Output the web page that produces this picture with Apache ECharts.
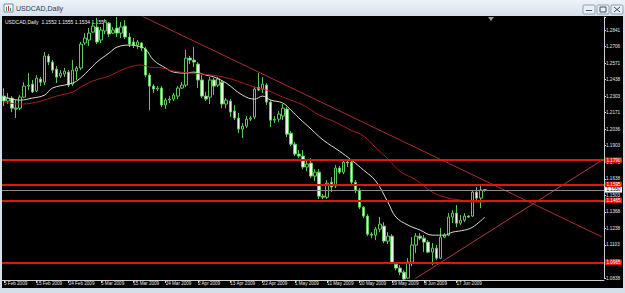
<!DOCTYPE html>
<html><head><meta charset="utf-8">
<script src="https://cdn.jsdelivr.net/npm/echarts@6/dist/echarts.min.js"></script>
<style>html,body{margin:0;padding:0;background:#dae4ef;}#c{width:625px;height:293px;}</style>
</head><body><div id="c"></div>
<script>
const dates = [
'5 Feb 2009','6 Feb 2009','8 Feb 2009','9 Feb 2009','10 Feb 2009','11 Feb 2009','12 Feb 2009','13 Feb 2009',
'15 Feb 2009','16 Feb 2009','17 Feb 2009','18 Feb 2009','19 Feb 2009','20 Feb 2009','22 Feb 2009','23 Feb 2009',
'24 Feb 2009','25 Feb 2009','26 Feb 2009','27 Feb 2009','1 Mar 2009','2 Mar 2009','3 Mar 2009','4 Mar 2009',
'5 Mar 2009','6 Mar 2009','8 Mar 2009','9 Mar 2009','10 Mar 2009','11 Mar 2009','12 Mar 2009','13 Mar 2009',
'15 Mar 2009','16 Mar 2009','17 Mar 2009','18 Mar 2009','19 Mar 2009','20 Mar 2009','22 Mar 2009','23 Mar 2009',
'24 Mar 2009','25 Mar 2009','26 Mar 2009','27 Mar 2009','29 Mar 2009','30 Mar 2009','31 Mar 2009','1 Apr 2009',
'2 Apr 2009','3 Apr 2009','5 Apr 2009','6 Apr 2009','7 Apr 2009','8 Apr 2009','9 Apr 2009','10 Apr 2009',
'13 Apr 2009','14 Apr 2009','15 Apr 2009','16 Apr 2009','17 Apr 2009','19 Apr 2009','20 Apr 2009','21 Apr 2009',
'22 Apr 2009','23 Apr 2009','24 Apr 2009','26 Apr 2009','27 Apr 2009','28 Apr 2009','29 Apr 2009','30 Apr 2009',
'1 May 2009','3 May 2009','4 May 2009','5 May 2009','6 May 2009','7 May 2009','8 May 2009','10 May 2009',
'11 May 2009','12 May 2009','13 May 2009','14 May 2009','15 May 2009','17 May 2009','18 May 2009','19 May 2009',
'20 May 2009','21 May 2009','22 May 2009','24 May 2009','25 May 2009','26 May 2009','27 May 2009','28 May 2009',
'29 May 2009','31 May 2009','1 Jun 2009','2 Jun 2009','3 Jun 2009','4 Jun 2009','5 Jun 2009','7 Jun 2009',
'8 Jun 2009','9 Jun 2009','10 Jun 2009','11 Jun 2009','12 Jun 2009','14 Jun 2009','15 Jun 2009','16 Jun 2009',
'17 Jun 2009','18 Jun 2009','19 Jun 2009','21 Jun 2009','22 Jun 2009','23 Jun 2009','24 Jun 2009','25 Jun 2009'];

const opens = [
1.2307,1.2267,1.2291,1.2210,1.2210,1.2299,1.2388,1.2404,1.2348,1.2445,
1.2420,1.2631,1.2582,1.2525,1.2469,1.2485,1.2501,1.2404,1.2509,1.2534,
1.2736,1.2760,1.2824,1.2865,1.2760,1.2833,1.2897,1.2816,1.2857,1.2816,
1.2873,1.2784,1.2744,1.2719,1.2736,1.2687,1.2477,1.2388,1.2364,1.2372,
1.2235,1.2275,1.2283,1.2307,1.2372,1.2396,1.2614,1.2598,1.2566,1.2437,
1.2307,1.2299,1.2437,1.2396,1.2420,1.2243,1.2267,1.2186,1.2130,1.2041,
1.2065,1.2121,1.2138,1.2380,1.2364,1.2396,1.2259,1.2113,1.2121,1.2146,
1.2202,1.2008,1.1919,1.1839,1.1823,1.1734,1.1766,1.1661,1.1693,1.1499,
1.1491,1.1612,1.1580,1.1726,1.1693,1.1774,1.1774,1.1612,1.1548,1.1410,
1.1338,1.1192,1.1184,1.1233,1.1257,1.1136,1.1176,1.0950,1.0918,1.0885,
1.0837,1.0966,1.1104,1.1176,1.1160,1.1128,1.1047,1.1079,1.0998,1.1168,
1.1184,1.1330,1.1362,1.1281,1.1305,1.1338,1.1338,1.1532,1.1483,1.1552];

const closes = [
1.2267,1.2291,1.2210,1.2202,1.2299,1.2388,1.2396,1.2340,1.2453,1.2420,
1.2631,1.2582,1.2517,1.2461,1.2493,1.2509,1.2396,1.2517,1.2534,1.2727,
1.2776,1.2816,1.2873,1.2744,1.2841,1.2905,1.2808,1.2841,1.2816,1.2865,
1.2784,1.2727,1.2719,1.2744,1.2695,1.2477,1.2388,1.2364,1.2372,1.2235,
1.2275,1.2283,1.2315,1.2372,1.2396,1.2614,1.2598,1.2582,1.2437,1.2307,
1.2283,1.2437,1.2388,1.2445,1.2243,1.2275,1.2178,1.2130,1.2041,1.2065,
1.2121,1.2130,1.2364,1.2356,1.2404,1.2259,1.2113,1.2121,1.2162,1.2210,
1.2000,1.1919,1.1839,1.1823,1.1734,1.1758,1.1661,1.1693,1.1499,1.1491,
1.1604,1.1572,1.1726,1.1693,1.1774,1.1766,1.1612,1.1548,1.1410,1.1338,
1.1192,1.1184,1.1233,1.1273,1.1136,1.1176,1.0966,1.0918,1.0885,1.0829,
1.0966,1.1104,1.1176,1.1160,1.1128,1.1047,1.1079,1.0998,1.1168,1.1184,
1.1330,1.1362,1.1281,1.1305,1.1338,1.1330,1.1532,1.1483,1.1548,1.1550];

const highs = [
1.2372,1.2332,1.2307,1.2275,1.2315,1.2420,1.2493,1.2437,1.2477,1.2461,
1.2663,1.2647,1.2598,1.2550,1.2517,1.2534,1.2517,1.2598,1.2550,1.2744,
1.2816,1.2857,1.2905,1.2938,1.2865,1.2929,1.2905,1.2865,1.2946,1.2905,
1.2921,1.2816,1.2776,1.2760,1.2744,1.2703,1.2493,1.2404,1.2388,1.2388,
1.2291,1.2307,1.2332,1.2388,1.2420,1.2679,1.2631,1.2703,1.2582,1.2477,
1.2340,1.2461,1.2453,1.2461,1.2437,1.2291,1.2283,1.2235,1.2170,1.2089,
1.2146,1.2146,1.2380,1.2493,1.2461,1.2412,1.2275,1.2146,1.2186,1.2243,
1.2219,1.2025,1.1936,1.1871,1.1871,1.1782,1.1806,1.1717,1.1717,1.1516,
1.1629,1.1653,1.1750,1.1742,1.1798,1.1798,1.1790,1.1629,1.1564,1.1419,
1.1354,1.1208,1.1249,1.1330,1.1289,1.1208,1.1192,1.0966,1.0942,1.0901,
1.0998,1.1168,1.1200,1.1200,1.1184,1.1144,1.1120,1.1104,1.1241,1.1200,
1.1362,1.1386,1.1427,1.1346,1.1362,1.1346,1.1548,1.1572,1.1580,1.1555];

const lows = [
1.2227,1.2243,1.2178,1.2130,1.2194,1.2291,1.2356,1.2332,1.2340,1.2388,
1.2396,1.2558,1.2493,1.2412,1.2453,1.2461,1.2380,1.2388,1.2437,1.2517,
1.2719,1.2711,1.2816,1.2727,1.2736,1.2808,1.2784,1.2808,1.2784,1.2776,
1.2768,1.2703,1.2695,1.2687,1.2671,1.2461,1.2194,1.2332,1.2348,1.2219,
1.2202,1.2251,1.2267,1.2283,1.2364,1.2380,1.2566,1.2542,1.2372,1.2291,
1.2267,1.2243,1.2315,1.2380,1.2210,1.2210,1.2138,1.2113,1.2008,1.1968,
1.2049,1.2105,1.2121,1.2348,1.2332,1.2235,1.2057,1.2089,1.2097,1.2113,
1.1976,1.1903,1.1823,1.1806,1.1717,1.1701,1.1645,1.1621,1.1475,1.1475,
1.1475,1.1532,1.1564,1.1677,1.1677,1.1734,1.1596,1.1524,1.1394,1.1322,
1.1176,1.1160,1.1144,1.1208,1.1120,1.1112,1.0950,1.0901,1.0861,1.0821,
1.0829,1.0934,1.1039,1.1144,1.1047,1.1039,1.0942,1.0982,1.0990,1.1160,
1.1176,1.1281,1.1249,1.1265,1.1289,1.1322,1.1330,1.1451,1.1402,1.1534];

// moving averages: [bar index, price]
const whiteMA = [[0,1.2299],[2,1.2283],[4,1.2275],[7,1.2291],[10,1.2315],[12,1.2372],[16,1.2404],[18,1.2429],
[21,1.2517],[23,1.2582],[26,1.2655],[28,1.2703],[31,1.2719],[33,1.2711],[35,1.2687],[37,1.2598],[40,1.2534],
[42,1.2501],[45,1.2493],[47,1.2501],[50,1.2477],[52,1.2461],[55,1.2412],[59,1.2315],[62,1.2283],[64,1.2307],
[66,1.2275],[69,1.2251],[71,1.2194],[73,1.2130],[76,1.2041],[79,1.1952],[83,1.1863],[86,1.1790],[89,1.1709],
[92,1.1621],[95,1.1451],[97,1.1330],[100,1.1265],[103,1.1225],[106,1.1184],[109,1.1184],[111,1.1208],
[114,1.1225],[116,1.1249],[119,1.1330]];
const redMA = [[0,1.2259],[4,1.2243],[7,1.2251],[10,1.2275],[13,1.2307],[17,1.2340],[19,1.2380],[22,1.2429],
[26,1.2469],[29,1.2517],[32,1.2550],[34,1.2558],[36,1.2542],[39,1.2534],[42,1.2509],[46,1.2493],[49,1.2485],
[53,1.2469],[57,1.2437],[62,1.2380],[65,1.2356],[69,1.2299],[74,1.2235],[78,1.2154],[82,1.2097],[86,1.2030],
[89,1.1985],[92,1.1890],[95,1.1800],[98,1.1700],[102,1.1629],[106,1.1532],[110,1.1483],[113,1.1467],
[116,1.1451],[119,1.1451]];

// trend lines (endpoints, bar index / price)
const trendDown = [[30,1.3018],[148,1.1170]];
const trendUp = [[100,1.0796],[148,1.1790]];
// horizontal levels
const levels = [1.1790,1.1595,1.1465,1.0965];
const lastPrice = 1.1550;
const headerText = 'USDCAD,Daily  1.1552 1.1555 1.1534 1.1550';
const windowTitle = 'USDCAD,Daily';

const tickLabels = ['5 Feb 2009','15 Feb 2009','24 Feb 2009','5 Mar 2009','15 Mar 2009','24 Mar 2009','2 Apr 2009',
'13 Apr 2009','22 Apr 2009','1 May 2009','11 May 2009','20 May 2009','29 May 2009','8 Jun 2009','17 Jun 2009'];
const priceLabels = ['1.0838','1.0972','1.1103','1.1238','1.1368','1.1503','1.1638','1.1773','1.1903',
'1.2036','1.2171','1.2303','1.2438','1.2571','1.2706','1.2841'];
const priceBase = 1.0838, priceStep = 0.013353;
const futureBars = 29;

const cats = dates.slice();
for (let k = 1; k <= futureBars; k++) cats.push('+' + k);
const candleData = opens.map((o, i) => [o, closes[i], lows[i], highs[i]]);

const FONT = '"Liberation Sans", Arial, sans-serif';
const showTick = (idx, val) => tickLabels.indexOf(val) >= 0;

const chart = echarts.init(document.getElementById('c'), null, {renderer: 'svg'});
const AX = '#cfcfcf';
chart.setOption({
  animation: false,
  backgroundColor: '#000000',
  grid: {left: 2, right: 21, top: 17, height: 261},
  xAxis: {
    type: 'category', data: cats, boundaryGap: true, offset: 2,
    axisLine: {show: true, lineStyle: {color: AX, width: 1}},
    axisTick: {show: true, alignWithLabel: true, interval: showTick, length: 3, lineStyle: {color: AX}},
    axisLabel: {interval: showTick, align: 'left', color: '#e8e8e8', fontSize: 4.6, fontFamily: FONT, margin: 1},
    splitLine: {show: false}
  },
  yAxis: {
    type: 'value', position: 'right', min: priceBase, max: 1.2946, interval: priceStep,
    axisLine: {show: true, lineStyle: {color: AX}},
    axisTick: {show: true, length: 2, lineStyle: {color: AX}},
    splitLine: {show: false},
    axisLabel: {color: '#e8e8e8', fontSize: 4.6, fontFamily: FONT, margin: 2,
      formatter: v => {
        const f = (v - priceBase) / priceStep, k = Math.round(f);
        if (Math.abs(f - k) > 0.05 || k < 0 || k >= priceLabels.length) return '';
        return priceLabels[k];
      }}
  },
  series: [
    {
      type: 'candlestick', data: candleData, barWidth: 3, clip: false,
      itemStyle: {color: '#000000', color0: '#eef6e6', borderColor: '#5cc85c', borderColor0: '#5cc85c', borderWidth: 1},
      markLine: {
        symbol: 'none', silent: true, animation: false, precision: 4,
        label: {position: 'end', distance: 1, fontSize: 4.6, fontFamily: FONT, padding: [0.5, 1.5, 0, 1.5],
          formatter: p => Number(p.value).toFixed(4)},
        data: levels.map(v => ({yAxis: v, lineStyle: {color: '#e3160f', width: 2, type: 'solid'},
            label: {color: '#ffffff', backgroundColor: '#d8180f'}}))
          .concat([{yAxis: lastPrice, lineStyle: {color: '#8a8a8a', width: 1, type: 'solid'},
            label: {color: '#000000', backgroundColor: '#ffffff'}}])
      }
    },
    {type: 'line', data: whiteMA, smooth: 0.4, symbol: 'none', lineStyle: {color: '#dcdcc8', width: 1}},
    {type: 'line', data: redMA, smooth: 0.4, symbol: 'none', lineStyle: {color: '#a8201c', width: 1}},
    {type: 'line', data: trendDown, symbol: 'none', lineStyle: {color: '#a83030', width: 1}},
    {type: 'line', data: trendUp, symbol: 'none', lineStyle: {color: '#b03a4a', width: 1}}
  ],
  graphic: [
    {type: 'rect', shape: {x: 0, y: 0, width: 625, height: 16}, silent: true,
      style: {fill: new echarts.graphic.LinearGradient(0, 0, 0, 1, [{offset: 0, color: '#eef3f9'}, {offset: 1, color: '#d5e0ec'}])}},
    {type: 'rect', shape: {x: 0, y: 16, width: 2, height: 277}, style: {fill: '#d5dfea'}},
    {type: 'rect', shape: {x: 623, y: 16, width: 2, height: 277}, style: {fill: '#d5dfea'}},
    {type: 'rect', shape: {x: 0, y: 288, width: 625, height: 5}, style: {fill: '#d5dfea'}},
    {type: 'rect', shape: {x: 4, y: 4, width: 9, height: 8}, style: {fill: '#f4f7fb', stroke: '#6d8fb3', lineWidth: 1}},
    {type: 'rect', shape: {x: 6, y: 7, width: 1, height: 4}, style: {fill: '#3a9a3a'}},
    {type: 'rect', shape: {x: 8, y: 6, width: 1, height: 5}, style: {fill: '#c03030'}},
    {type: 'rect', shape: {x: 10, y: 8, width: 1, height: 3}, style: {fill: '#3a9a3a'}},
    {type: 'text', style: {text: windowTitle, x: 16, y: 8.5, fill: '#2a3f5a', fontSize: 7, fontFamily: FONT, verticalAlign: 'middle'}},
    {type: 'rect', shape: {x: 583, y: 5, width: 12, height: 9, r: 1}, style: {fill: '#e9eff6', stroke: '#8fa3ba', lineWidth: 1}},
    {type: 'rect', shape: {x: 597, y: 5, width: 12, height: 9, r: 1}, style: {fill: '#e9eff6', stroke: '#8fa3ba', lineWidth: 1}},
    {type: 'rect', shape: {x: 611, y: 5, width: 12, height: 9, r: 1}, style: {fill: '#e9eff6', stroke: '#8fa3ba', lineWidth: 1}},
    {type: 'rect', shape: {x: 586, y: 10, width: 6, height: 1}, style: {fill: '#405060'}},
    {type: 'rect', shape: {x: 600, y: 7, width: 6, height: 5}, style: {fill: 'none', stroke: '#405060', lineWidth: 1}},
    {type: 'line', shape: {x1: 614, y1: 7, x2: 620, y2: 12}, style: {stroke: '#405060', lineWidth: 1}},
    {type: 'line', shape: {x1: 620, y1: 7, x2: 614, y2: 12}, style: {stroke: '#405060', lineWidth: 1}},
    {type: 'text', style: {text: headerText, x: 5, y: 21.5, fill: '#f0f0f0', fontSize: 5, fontFamily: FONT, verticalAlign: 'middle'}},
    {type: 'polygon', shape: {points: [[488, 17], [494, 17], [491, 21]]}, style: {fill: '#9a9a9a'}}
  ]
});
</script></body></html>
